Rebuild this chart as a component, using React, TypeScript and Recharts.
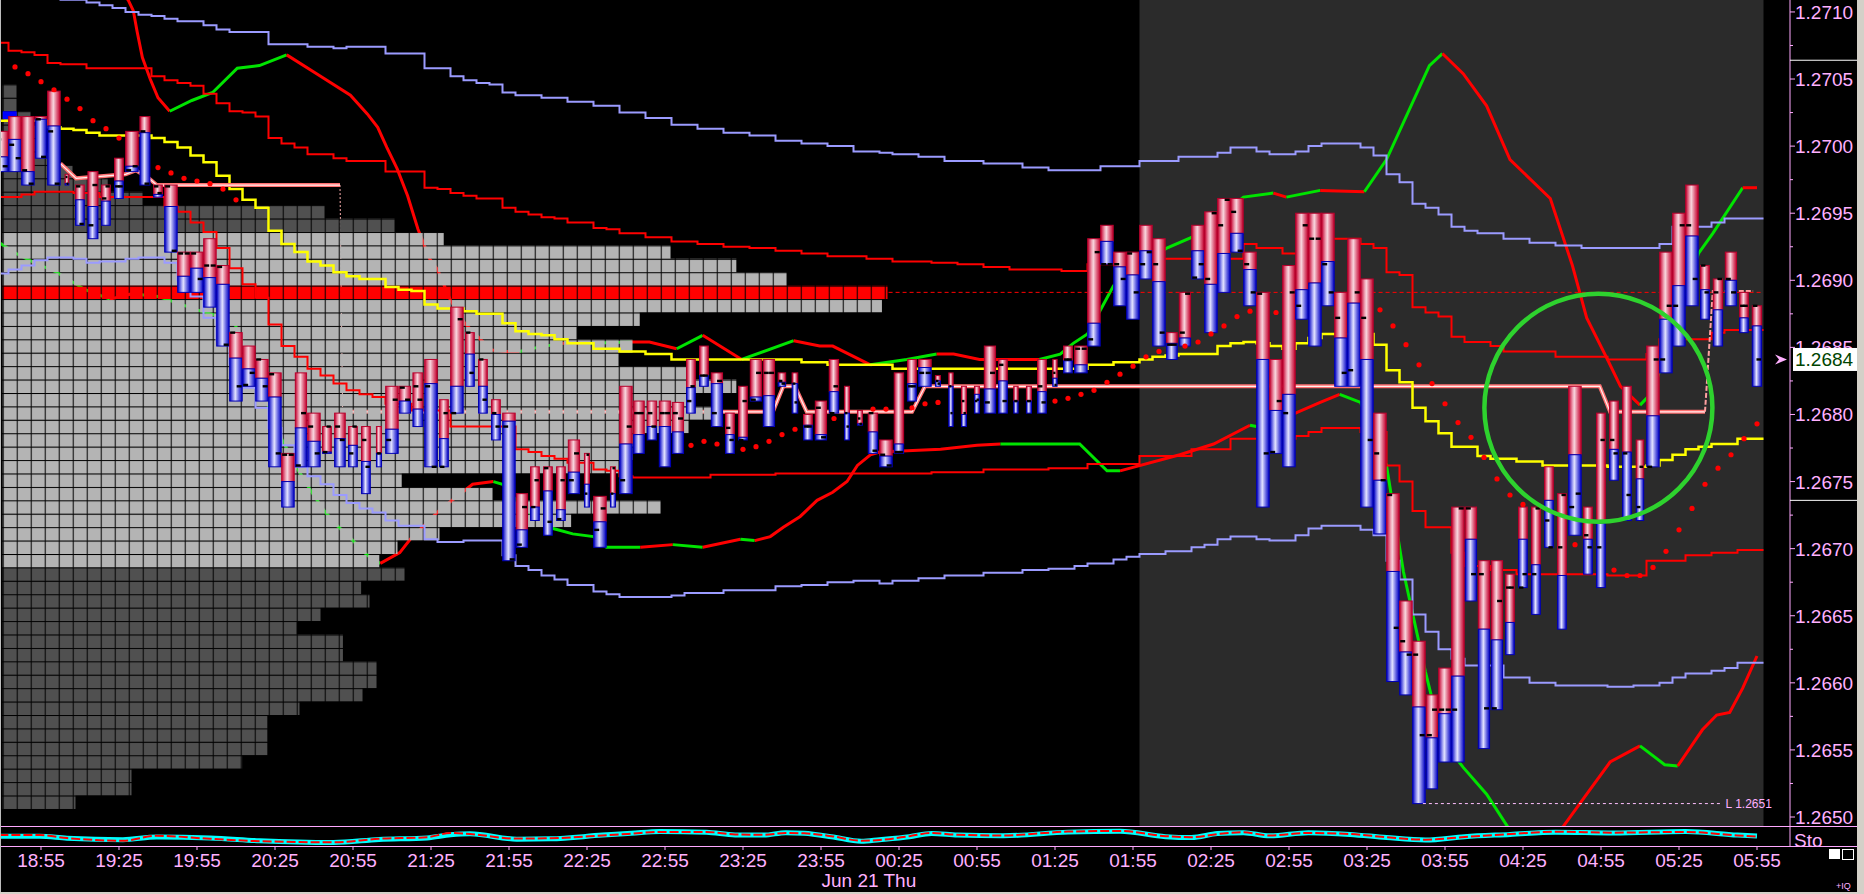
import React from "react"
import {
  ComposedChart,
  Line,
  Bar,
  XAxis,
  YAxis,
  ReferenceArea,
  ReferenceLine,
  ReferenceDot,
} from "recharts"

// ---- frame / scale setup
const W = 1857
const MAIN_H = 826
const STRIP_H = 68
const AXIS_W = 67
const PRICE_MIN = 1.264933
const PRICE_MAX = 1.271089
const X_MIN = -3.1538
const X_MAX = 134.538
const PROF_MIN = -0.193
const PROF_MAX = 127.66
const FONT = "'Liberation Sans', Arial, sans-serif"
const PINK_TXT = "#ffb0ff"
const PINK_AXIS = "#ffa8ff"
const GREEN = "#00e400"
const RED = "#ff0000"

// ---- 5 minute bars, index 0 = 18:55
const FIRST_BAR = -3
const BAR_HIGH = [
  1.27011, 1.27022, 1.27022, 1.27022, 1.27041, 1.26979, 1.26971, 1.26981, 1.26971, 1.26991, 1.27011, 1.27022, 1.26971,
  1.26971, 1.26921, 1.26921, 1.26931, 1.26911, 1.26861, 1.26851, 1.26841, 1.26831, 1.26771,
  1.26831, 1.26801, 1.26791, 1.26801, 1.26791, 1.26791, 1.26791, 1.26821, 1.26821, 1.26831,
  1.26841, 1.26811, 1.2688, 1.26861, 1.26841, 1.26811, 1.26801, 1.26741, 1.26761, 1.26761,
  1.26761, 1.26781, 1.26771, 1.26739, 1.26761, 1.26821, 1.2681, 1.2681, 1.2681, 1.26809,
  1.26841, 1.26851, 1.26831, 1.26801, 1.26821, 1.26841, 1.26841, 1.26831, 1.26831, 1.268,
  1.2681, 1.26841, 1.26821, 1.26803, 1.26801, 1.26781, 1.26831, 1.26841, 1.26841, 1.26829,
  1.26831, 1.26821, 1.26821, 1.26851, 1.26841, 1.26821, 1.26821, 1.26841, 1.26841, 1.26851,
  1.26851, 1.26931, 1.26941, 1.26921, 1.26921, 1.26941, 1.26931, 1.26861, 1.26891, 1.26941,
  1.26951, 1.26961, 1.26961, 1.26921, 1.26891, 1.26841, 1.26911, 1.2695, 1.2695, 1.2695,
  1.26891, 1.26931, 1.26901, 1.26801, 1.26741, 1.26661, 1.26631, 1.26591, 1.26611, 1.26731,
  1.26731, 1.26691, 1.26691, 1.26681, 1.26731, 1.26731, 1.26761, 1.26741, 1.26821, 1.26731,
  1.26801, 1.2681, 1.26821, 1.26781, 1.26851, 1.26921, 1.2695, 1.26971, 1.26911, 1.26901,
  1.26921, 1.26891, 1.26881,
]
const BAR_MID = [
  1.26992, 1.27005, 1.26981, 1.2702, 1.27015, 1.26972, 1.2696, 1.26955, 1.26959, 1.26974, 1.26985, 1.2701, 1.26964,
  1.26955, 1.26903, 1.26909, 1.26902, 1.26897, 1.26842, 1.26834, 1.26827, 1.26813, 1.2675,
  1.2679, 1.2678, 1.26772, 1.26782, 1.26777, 1.26765, 1.26771, 1.26789, 1.2681, 1.26804,
  1.26823, 1.26782, 1.26821, 1.26845, 1.26821, 1.268, 1.26795, 1.26714, 1.26731, 1.26743,
  1.26729, 1.26757, 1.26748, 1.2672, 1.26741, 1.26778, 1.26785, 1.26791, 1.26791, 1.26787,
  1.2682, 1.26829, 1.26823, 1.26785, 1.26783, 1.26813, 1.26814, 1.26824, 1.26823, 1.26792,
  1.26785, 1.26817, 1.26801, 1.26793, 1.26787, 1.26769, 1.26778, 1.26823, 1.26835, 1.26825,
  1.26821, 1.268, 1.26815, 1.26819, 1.26825, 1.2681, 1.2681, 1.26817, 1.26827, 1.2684,
  1.26837, 1.26868, 1.26929, 1.2691, 1.26904, 1.26922, 1.26899, 1.26853, 1.26857, 1.26922,
  1.26897, 1.2692, 1.26935, 1.26908, 1.26841, 1.26803, 1.26815, 1.26893, 1.26898, 1.26914,
  1.26857, 1.26883, 1.26841, 1.26751, 1.26683, 1.26623, 1.26582, 1.26559, 1.26577, 1.26605,
  1.26707, 1.2664, 1.26632, 1.26645, 1.26707, 1.26688, 1.26736, 1.2668, 1.2677, 1.26707,
  1.26719, 1.26774, 1.26772, 1.26752, 1.26799, 1.26871, 1.26896, 1.26933, 1.26893, 1.26878,
  1.269, 1.26872, 1.26866,
]
const BAR_LOW = [
  1.26981, 1.26981, 1.26971, 1.26991, 1.26971, 1.26971, 1.26941, 1.26931, 1.26941, 1.26961, 1.26981, 1.26971, 1.26962,
  1.26921, 1.26891, 1.26891, 1.2688, 1.26851, 1.2681, 1.26821, 1.2681, 1.26761, 1.26731,
  1.26761, 1.26761, 1.26771, 1.26761, 1.26761, 1.26741, 1.26761, 1.26771, 1.26801, 1.26791,
  1.26761, 1.26761, 1.26801, 1.26821, 1.26801, 1.26781, 1.26691, 1.26701, 1.26721, 1.2671,
  1.26721, 1.26741, 1.26731, 1.26701, 1.26731, 1.26741, 1.26771, 1.26781, 1.26761, 1.26771,
  1.26801, 1.26821, 1.26791, 1.26771, 1.26781, 1.2681, 1.26791, 1.26821, 1.26801, 1.26781,
  1.26781, 1.26801, 1.26781, 1.26792, 1.26771, 1.26761, 1.26771, 1.2681, 1.26821, 1.26821,
  1.26791, 1.26791, 1.26801, 1.26801, 1.26801, 1.26801, 1.26801, 1.26801, 1.26821, 1.26831,
  1.26831, 1.26851, 1.26912, 1.26881, 1.26871, 1.26901, 1.26851, 1.26841, 1.26851, 1.26901,
  1.26861, 1.26891, 1.26921, 1.26881, 1.26731, 1.26771, 1.26761, 1.26871, 1.26851, 1.26881,
  1.26821, 1.26821, 1.26731, 1.26711, 1.26601, 1.26591, 1.2651, 1.26521, 1.26541, 1.26541,
  1.26661, 1.26551, 1.2658, 1.26621, 1.26671, 1.26651, 1.26701, 1.2664, 1.2671, 1.26681,
  1.26671, 1.26751, 1.26721, 1.26721, 1.26761, 1.26831, 1.26851, 1.26881, 1.26871, 1.26851,
  1.26881, 1.26861, 1.26821,
]
const BAR_OPEN = [
  1.27005, 1.27001, 1.26982, 1.2702, 1.27011, 1.26977, 1.2697, 1.26941, 1.26961, 1.2697, 1.26982, 1.27011, 1.2697,
  1.2697, 1.2692, 1.2692, 1.26911, 1.2691, 1.26861, 1.26822, 1.26841, 1.2683, 1.2677,
  1.26762, 1.26791, 1.26772, 1.26791, 1.26771, 1.26781, 1.26771, 1.26781, 1.2682, 1.26821,
  1.26821, 1.26761, 1.26801, 1.26861, 1.26841, 1.26801, 1.26791, 1.26703, 1.26731, 1.2676,
  1.26722, 1.26751, 1.26741, 1.26714, 1.26741, 1.26751, 1.26801, 1.26801, 1.26801, 1.26801,
  1.2681, 1.26829, 1.26801, 1.2679, 1.26781, 1.26811, 1.26831, 1.26825, 1.26823, 1.26791,
  1.26805, 1.26801, 1.26801, 1.26797, 1.26801, 1.2677, 1.26772, 1.26821, 1.26831, 1.26825,
  1.26821, 1.2681, 1.2681, 1.26809, 1.26837, 1.2681, 1.2681, 1.26821, 1.26831, 1.26841,
  1.26849, 1.26856, 1.26912, 1.26912, 1.2692, 1.26912, 1.26912, 1.26852, 1.26861, 1.26902,
  1.26901, 1.26941, 1.26951, 1.26912, 1.2689, 1.26772, 1.26801, 1.26881, 1.26931, 1.26912,
  1.26872, 1.26833, 1.26872, 1.26771, 1.2674, 1.26631, 1.26621, 1.26561, 1.2658, 1.2658,
  1.2673, 1.26681, 1.26581, 1.26671, 1.26671, 1.26681, 1.26721, 1.26701, 1.26731, 1.2671,
  1.26701, 1.26781, 1.26771, 1.26731, 1.26761, 1.26841, 1.26881, 1.26941, 1.26911, 1.26891,
  1.26901, 1.26881, 1.26881,
]
const BAR_CLOSE = [
  1.26985, 1.26991, 1.26972, 1.26992, 1.26972, 1.26972, 1.26942, 1.26971, 1.2697, 1.2697, 1.26985, 1.26972, 1.26965,
  1.26922, 1.2692, 1.26901, 1.26911, 1.26852, 1.26821, 1.26831, 1.26821, 1.26771, 1.2677,
  1.26801, 1.26771, 1.26791, 1.26781, 1.26791, 1.26761, 1.26771, 1.26811, 1.26811, 1.26811,
  1.26761, 1.26801, 1.26871, 1.26831, 1.26811, 1.26791, 1.26692, 1.26731, 1.26751, 1.2672,
  1.26751, 1.26771, 1.2677, 1.2673, 1.2676, 1.26791, 1.26801, 1.26791, 1.26801, 1.26797,
  1.26821, 1.26829, 1.26825, 1.26781, 1.2681, 1.26831, 1.26831, 1.26823, 1.26809, 1.26791,
  1.26783, 1.26821, 1.26791, 1.26793, 1.26773, 1.26762, 1.26772, 1.26821, 1.26831, 1.26823,
  1.26801, 1.26801, 1.26811, 1.26831, 1.2681, 1.2681, 1.2681, 1.26809, 1.26822, 1.26841,
  1.26849, 1.26921, 1.26912, 1.26901, 1.26891, 1.26921, 1.26861, 1.26852, 1.2689, 1.26912,
  1.2695, 1.2696, 1.26922, 1.26891, 1.26771, 1.2681, 1.26891, 1.26941, 1.26931, 1.26891,
  1.26831, 1.26891, 1.26781, 1.26751, 1.26641, 1.26621, 1.26561, 1.2658, 1.2658, 1.2673,
  1.26681, 1.26581, 1.26661, 1.26671, 1.26681, 1.2673, 1.26701, 1.2674, 1.26741, 1.26701,
  1.26781, 1.26771, 1.2674, 1.26761, 1.26841, 1.26881, 1.26941, 1.26901, 1.26891, 1.26901,
  1.26891, 1.26881, 1.26841,
]
// relative body width (volume)
const BAR_WIDTH = [
  1, 1, 1, 0.9, 1, 0.3, 0.7, 0.8, 0.7, 0.7, 1, 0.8, 0.7,
  1, 1, 1, 1, 1, 1, 1, 1, 1, 1,
  0.9, 1, 0.7, 0.85, 0.7, 0.7, 0.4, 1, 0.9, 0.8,
  1, 0.7, 1, 0.7, 0.7, 0.7, 1, 0.9, 0.7, 0.7,
  0.7, 0.9, 0.4, 1, 0.4, 1, 0.85, 0.75, 0.9, 0.9,
  0.7, 0.7, 0.9, 0.7, 0.7, 0.9, 0.9, 0.6, 0.45, 0.7,
  0.9, 0.75, 0.4, 0.4, 0.75, 1, 0.75, 0.7, 1, 0.4,
  0.35, 0.4, 0.4, 0.9, 0.7, 0.35, 0.4, 0.7, 0.35, 0.7,
  1, 1, 1, 1, 1, 1, 1, 0.85, 0.9, 1,
  1, 1, 1, 1, 1, 1, 1, 1, 1, 1,
  1, 1, 1, 1, 1, 1, 1, 0.9, 1, 1,
  0.9, 0.9, 0.9, 0.7, 0.7, 0.7, 0.7, 0.7, 1, 0.7,
  0.7, 0.7, 0.7, 0.6, 1, 1, 1, 1, 0.7, 0.75,
  0.9, 0.7, 0.75,
]

const TIME_TICKS = [0, 6, 12, 18, 24, 30, 36, 42, 48, 54, 60, 66, 72, 78, 84, 90, 96, 102, 108, 114, 120, 126, 132]
const TIME_LABELS = [
  "18:55", "19:25", "19:55", "20:25", "20:55", "21:25", "21:55", "22:25", "22:55", "23:25", "23:55", "00:25",
  "00:55", "01:25", "01:55", "02:25", "02:55", "03:25", "03:55", "04:25", "04:55", "05:25", "05:55",
]
const DATE_TICK = 60.5
const DATE_LABEL = "Jun 21 Thu"

const MAJOR_TICKS = [1.265, 1.2655, 1.266, 1.2665, 1.267, 1.2675, 1.268, 1.2685, 1.269, 1.2695, 1.27, 1.2705, 1.271]
const MINOR_TICKS = [1.26525, 1.26575, 1.26625, 1.26675, 1.26725, 1.26775, 1.26825, 1.26875, 1.26925, 1.26975, 1.27025, 1.27075]
const MARK_LINES = [1.27064, 1.26736]
const LAST_PRICE = 1.26841

const SESSION_START = 84.5
const SESSION_END = 132.5

// ---- volume profile (row centre price, TPO cells)
const POC_PRICE = 1.26891
const VA_HIGH = 1.26931
const VA_LOW = 1.26691
const PROFILE_PRICE = [
  1.27041, 1.27031, 1.27021, 1.27011, 1.27001, 1.26991, 1.26981, 1.26971, 1.26961, 1.26951, 1.26941,
  1.26931, 1.26921, 1.26911, 1.26901, 1.26891, 1.26881, 1.26871, 1.26861, 1.26851, 1.26841, 1.26831,
  1.26821, 1.26811, 1.26801, 1.26791, 1.26781, 1.26771, 1.26761, 1.26751, 1.26741, 1.26731, 1.26721,
  1.26711, 1.26701, 1.26691, 1.26681, 1.26671, 1.26661, 1.26651, 1.26641, 1.26631, 1.26621, 1.26611,
  1.26601, 1.26591, 1.26581, 1.26571, 1.26561, 1.26551, 1.26541, 1.26531, 1.26521, 1.26511,
]
const PROFILE_CELLS = [
  1, 1, 2, 3, 3, 4, 5, 7.5, 10, 23, 28,
  31.5, 47.7, 52.4, 56, 63.2, 62.8, 45.5, 41, 45, 44, 49,
  52.4, 49, 51.4, 49, 45.5, 45, 44, 28.5, 35, 47, 40.6,
  31.2, 28.2, 26.9, 28.7, 25.6, 26.2, 22.7, 21, 24.3, 24.3, 26.7,
  26.7, 25.7, 21.2, 18.9, 18.9, 18.9, 17.1, 9.2, 9.2, 5.2,
]

// ---- overlay studies, [bar index, price]
const UPPER_BAND = [
  [-3.5, 1.27125], [1.5, 1.27109], [3.5, 1.27107], [4.5, 1.27105], [5.5, 1.27103], [6.5, 1.271], [7.5, 1.27098],
  [8.5, 1.27097], [9.5, 1.27095], [10.5, 1.27093], [12.5, 1.2709], [13.5, 1.27087], [14.5, 1.27085], [17.5, 1.27076],
  [20.5, 1.27074], [22.5, 1.27073], [23.5, 1.27074], [26.5, 1.27069], [29.5, 1.27058], [31.5, 1.27052], [32.5, 1.27049],
  [33.5, 1.27047], [34.5, 1.27046], [35.5, 1.2704], [36.5, 1.27038], [38.5, 1.27036], [40.5, 1.27033], [42.5, 1.2703],
  [44.5, 1.27025], [46.5, 1.27021], [48.5, 1.27016], [50.5, 1.27013], [52.5, 1.2701], [54.5, 1.27008], [56.5, 1.27004],
  [58.5, 1.27002], [60.5, 1.27], [62.5, 1.26996], [64.5, 1.26995], [65.5, 1.26994], [67.5, 1.26992], [69.5, 1.26989],
  [72.5, 1.26987], [75.5, 1.26984], [77.5, 1.26982], [81.5, 1.26985], [84.5, 1.26989], [87.5, 1.26992], [90.5, 1.26995],
  [91.5, 1.26999], [93.5, 1.26996], [94.5, 1.26994], [96.5, 1.26996], [97.5, 1.27], [98.5, 1.27002], [101.5, 1.26999],
  [102.5, 1.26993], [103.5, 1.26979], [104.5, 1.26973], [105.5, 1.26957], [106.5, 1.26954], [107.5, 1.26949],
  [108.5, 1.2694], [109.5, 1.26937], [110.5, 1.26935], [112.5, 1.26931], [114.5, 1.26928], [116.5, 1.26926],
  [118.5, 1.26924], [124.5, 1.26927], [125.5, 1.2694], [128.5, 1.26943], [129.5, 1.26946], [132.5, 1.26946],
]
const LOWER_BAND = [
  [-3.5, 1.26905], [-2.5, 1.26908], [-1.5, 1.26911], [-0.5, 1.26915], [0.5, 1.26917], [2.5, 1.26916], [3.5, 1.26913],
  [4.5, 1.26914], [6.5, 1.26916], [7.5, 1.26917], [9.5, 1.26913], [10.5, 1.269], [11.5, 1.26888], [12.5, 1.26872],
  [13.5, 1.26855], [14.5, 1.26838], [15.5, 1.2682], [16.5, 1.26805], [17.5, 1.2679], [18.5, 1.26777], [19.5, 1.26761],
  [20.5, 1.26754], [21.5, 1.26748], [22.5, 1.2674], [23.5, 1.26734], [24.5, 1.2673], [25.5, 1.26727], [26.5, 1.26721],
  [27.5, 1.26717], [29.5, 1.26707], [30.5, 1.26705], [32.5, 1.26706], [35.5, 1.26695], [36.5, 1.26687], [37.5, 1.26684],
  [38.5, 1.2668], [39.5, 1.26677], [40.5, 1.26673], [42.5, 1.26668], [43.5, 1.26666], [44.5, 1.26664], [48.5, 1.26665],
  [49.5, 1.26667], [52.5, 1.26669], [56.5, 1.26672], [58.5, 1.26673], [60.5, 1.26675], [62.5, 1.26676], [64.5, 1.26674],
  [65.5, 1.26676], [67.5, 1.26678], [69.5, 1.2668], [72.5, 1.26682], [75.5, 1.26684], [77.5, 1.26685], [79.5, 1.26687],
  [80.5, 1.26689], [82.5, 1.26692], [83.5, 1.26694], [84.5, 1.26696], [86.5, 1.26698], [88.5, 1.26701], [89.5, 1.26703],
  [90.5, 1.26707], [91.5, 1.26709], [93.5, 1.26707], [94.5, 1.26706], [96.5, 1.2671], [97.5, 1.26715], [98.5, 1.26717],
  [101.5, 1.26714], [102.5, 1.2671], [103.5, 1.26691], [104.5, 1.26677], [105.5, 1.26651], [106.5, 1.26638],
  [107.5, 1.26625], [108.5, 1.26618], [109.5, 1.26613], [112.5, 1.26604], [114.5, 1.266], [116.5, 1.26598],
  [120.5, 1.26597], [122.5, 1.26598], [124.5, 1.266], [125.5, 1.26604], [126.5, 1.26607], [128.5, 1.26609],
  [129.5, 1.26611], [130.5, 1.26615], [132.5, 1.26615],
]
const RED_STEP_UPPER = [
  [-3.5, 1.27077], [-2.5, 1.27071], [-1.5, 1.2707], [-0.5, 1.27068], [0.5, 1.27062], [1.5, 1.27061], [3.5, 1.27058],
  [8.5, 1.27052], [9.5, 1.27049], [10.5, 1.27047], [11.5, 1.27045], [12.5, 1.27039], [13.5, 1.27032], [14.5, 1.27026],
  [15.5, 1.27025], [16.5, 1.27022], [17.5, 1.27006], [18.5, 1.27002], [19.5, 1.26999], [20.5, 1.26994], [22.5, 1.26991],
  [23.5, 1.26989], [26.5, 1.26981], [29.5, 1.26969], [30.5, 1.26968], [31.5, 1.26965], [32.5, 1.26963], [33.5, 1.26961],
  [35.5, 1.26954], [36.5, 1.26951], [37.5, 1.26949], [38.5, 1.26947], [39.5, 1.26946], [40.5, 1.26943], [42.5, 1.26939],
  [43.5, 1.26938], [44.5, 1.26935], [46.5, 1.26932], [48.5, 1.26929], [50.5, 1.26927], [52.5, 1.26925], [54.5, 1.26924],
  [56.5, 1.26922], [58.5, 1.2692], [60.5, 1.26918], [63.5, 1.26916], [65.5, 1.26914], [68.5, 1.26913], [70.5, 1.26912],
  [72.5, 1.2691], [74.5, 1.26908], [78.5, 1.26907], [80.5, 1.26912], [82.5, 1.26916], [92.5, 1.26927], [93.5, 1.26924],
  [95.5, 1.2692], [97.5, 1.26931], [101.5, 1.26927], [102.5, 1.26924], [103.5, 1.26906], [104.5, 1.26904],
  [105.5, 1.2688], [106.5, 1.26876], [107.5, 1.26873], [108.5, 1.26858], [109.5, 1.26854], [111.5, 1.26851],
  [112.5, 1.26847], [116.5, 1.26843], [120.5, 1.26841], [123.5, 1.26845], [124.5, 1.26856], [128.5, 1.26861],
  [129.5, 1.26863], [132.5, 1.26863],
]
const RED_STEP_LOWER = [
  [-3.5, 1.26962], [-1.5, 1.26964], [-0.5, 1.26966], [2.5, 1.26965], [4.5, 1.26962], [9.5, 1.26955], [10.5, 1.26951],
  [11.5, 1.26943], [12.5, 1.26936], [13.5, 1.26924], [14.5, 1.26909], [15.5, 1.26897], [16.5, 1.26887], [17.5, 1.26867],
  [18.5, 1.26851], [19.5, 1.26843], [20.5, 1.26834], [21.5, 1.26829], [22.5, 1.26823], [23.5, 1.26818], [24.5, 1.26815],
  [25.5, 1.26813], [26.5, 1.26808], [28.5, 1.26803], [31.5, 1.26791], [36.5, 1.26774], [37.5, 1.26772], [38.5, 1.26769],
  [39.5, 1.26767], [40.5, 1.26764], [42.5, 1.26759], [43.5, 1.26758], [44.5, 1.26754], [45.5, 1.26753], [51.5, 1.26755],
  [56.5, 1.26756], [68.5, 1.26757], [72.5, 1.26759], [77.5, 1.2676], [80.5, 1.26763], [84.5, 1.26769], [88.5, 1.26774],
  [91.5, 1.26782], [96.5, 1.26784], [97.5, 1.26787], [98.5, 1.2679], [101.5, 1.26787], [103.5, 1.26762], [104.5, 1.2675],
  [105.5, 1.26728], [106.5, 1.26716], [108.5, 1.26697], [109.5, 1.26687], [111.5, 1.26684], [113.5, 1.26681],
  [120.5, 1.2668], [123.5, 1.26691], [126.5, 1.26695], [128.5, 1.26697], [130.5, 1.26699], [132.5, 1.26699],
]
const VWAP = [
  [-3.5, 1.27019], [0.5, 1.27014], [1.5, 1.27013], [2.5, 1.27012], [3.5, 1.2701], [4.5, 1.27008], [8.5, 1.27006],
  [9.5, 1.27003], [10.5, 1.26999], [11.5, 1.26993], [12.5, 1.26988], [13.5, 1.26978], [14.5, 1.26968], [15.5, 1.2696],
  [16.5, 1.26954], [17.5, 1.26937], [18.5, 1.26927], [19.5, 1.26921], [20.5, 1.26914], [21.5, 1.26911], [22.5, 1.26906],
  [23.5, 1.26903], [24.5, 1.26901], [26.5, 1.26895], [27.5, 1.26893], [28.5, 1.26892], [29.5, 1.26882], [30.5, 1.26879],
  [32.5, 1.26877], [33.5, 1.26875], [35.5, 1.26868], [36.5, 1.26862], [37.5, 1.2686], [38.5, 1.26859], [39.5, 1.26856],
  [40.5, 1.26853], [42.5, 1.26849], [44.5, 1.26847], [46.5, 1.26845], [48.5, 1.26841], [58.5, 1.26839], [60.5, 1.26837],
  [65.5, 1.26834], [80.5, 1.26837], [82.5, 1.26839], [84.5, 1.26841], [85.5, 1.26843], [86.5, 1.26844], [87.5, 1.26845],
  [90.5, 1.26851], [91.5, 1.26853], [92.5, 1.26854], [93.5, 1.26853], [94.5, 1.26851], [95.5, 1.26849], [96.5, 1.26853],
  [97.5, 1.26857], [98.5, 1.2686], [102.5, 1.26852], [103.5, 1.26833], [104.5, 1.26824], [105.5, 1.26805],
  [106.5, 1.26795], [107.5, 1.26786], [108.5, 1.26776], [110.5, 1.26769], [111.5, 1.26767], [113.5, 1.26765],
  [115.5, 1.26762], [120.5, 1.26761], [123.5, 1.26762], [124.5, 1.26766], [125.5, 1.2677], [126.5, 1.26774],
  [127.5, 1.26776], [128.5, 1.26778], [130.5, 1.26782], [132.5, 1.26782],
]
const ENV_UPPER = [
  [4.5, 1.2713], [6.7, 1.27109], [7.1, 1.27101], [7.4, 1.27085], [7.8, 1.27066], [8.4, 1.2705], [9, 1.27036],
  [9.9, 1.27026], [11.6, 1.27034], [13.2, 1.2704], [15.1, 1.27058], [16.8, 1.2706], [18.9, 1.27068], [21.2, 1.27054],
  [23.8, 1.27038], [25.1, 1.27024], [25.9, 1.27014], [26.6, 1.26999], [27.4, 1.26983], [28.2, 1.26963], [29, 1.26938],
  [29.9, 1.26916], [30.5, 1.26908], [31.5, 1.26885], [32.6, 1.26868], [33.8, 1.26856], [34.7, 1.26848], [35.8, 1.26847],
  [36.8, 1.26847], [38.2, 1.2685], [40.1, 1.26853], [42.2, 1.26853], [45.4, 1.26854], [46.8, 1.26854], [48.9, 1.26849],
  [50.9, 1.26859], [53.9, 1.26841], [57.9, 1.26855], [59.9, 1.26851], [60.9, 1.26851], [63.8, 1.26837], [66.6, 1.26841],
  [68.9, 1.26845], [70.2, 1.26845], [72.2, 1.26841], [76.8, 1.26841], [78.4, 1.26845], [79.4, 1.26853], [80.5, 1.2686],
  [82.5, 1.26896], [84.4, 1.26909], [86.6, 1.26924], [88.5, 1.26932], [90.2, 1.26944], [92.5, 1.26962], [94.8, 1.26965],
  [95.8, 1.26962], [98.4, 1.26967], [101.8, 1.26966], [103.5, 1.2699], [106.8, 1.2706], [107.8, 1.27069],
  [109.4, 1.27054], [111.2, 1.2703], [113, 1.2699], [116.1, 1.26961], [117.8, 1.26911], [118.9, 1.26872],
  [120.5, 1.26841], [121.5, 1.26821], [123, 1.26807], [124, 1.26817], [125.5, 1.26863], [127.5, 1.2692],
  [128.6, 1.26935], [130.9, 1.26969], [132, 1.26969],
]
const ENV_LOWER = [
  [-3.2, 1.26928], [-1.9, 1.2692], [-0.7, 1.26914], [1.2, 1.26906], [3.4, 1.26893], [5.3, 1.26886], [7, 1.2689],
  [9, 1.26888], [12, 1.26878], [14.8, 1.2687], [16.5, 1.2683], [18.5, 1.26782], [19.7, 1.2676], [20.7, 1.26744],
  [21.8, 1.26728], [22.8, 1.26717], [24, 1.26706], [25.1, 1.26695], [26.1, 1.26689], [27.6, 1.26697], [28.4, 1.26707],
  [30.7, 1.26729], [33.2, 1.26748], [34.8, 1.2675], [35.5, 1.26748], [37.1, 1.2673], [39.4, 1.26715], [40.9, 1.26711],
  [42.5, 1.26709], [43.5, 1.26701], [46.1, 1.26701], [48.6, 1.26703], [50.9, 1.26701], [53.8, 1.26707], [54.9, 1.26706],
  [56.1, 1.26709], [57.1, 1.26716], [58.4, 1.26724], [59.7, 1.26736], [60.9, 1.26742], [62, 1.2675], [62.8, 1.26762],
  [63.8, 1.2677], [64.5, 1.26772], [69.2, 1.26774], [72, 1.26777], [73.8, 1.26778], [79.9, 1.26778], [82, 1.26758],
  [83, 1.26758], [87.6, 1.2677], [90.2, 1.26778], [93, 1.26792], [93.5, 1.26791], [96.5, 1.26801], [98.4, 1.26809],
  [99.9, 1.26815], [101.5, 1.26809], [103.5, 1.26762], [104.8, 1.26683], [106.5, 1.26608], [107.8, 1.26557],
  [109.4, 1.26537], [111.2, 1.26517], [112.8, 1.26493], [114.9, 1.26475], [117.1, 1.26493], [118.9, 1.26517],
  [120.7, 1.26541], [123, 1.26553], [124.9, 1.26539], [125.9, 1.26538], [127.8, 1.26565], [128.9, 1.26576],
  [129.9, 1.26578], [130.9, 1.26596], [132, 1.2662],
]
const SAR = [
  [-2, 1.27059], [-1, 1.27054], [0, 1.27048], [1, 1.27042], [2, 1.27035], [3, 1.27028], [4, 1.27019], [5, 1.27013],
  [6, 1.27006], [9, 1.26984], [10, 1.2698], [11, 1.26976], [12, 1.26974], [13, 1.26972], [14, 1.26968], [15, 1.2696],
  [50, 1.26777], [51, 1.2678], [52, 1.26778], [54, 1.26774], [55, 1.26776], [56, 1.2678], [57, 1.26785], [58, 1.26789],
  [61, 1.26797], [64, 1.26804], [65, 1.26804], [67, 1.26805], [68, 1.26808], [69, 1.26809], [78, 1.2681], [79, 1.26812],
  [80, 1.26815], [81, 1.26818], [82, 1.26824], [83, 1.2683], [84, 1.26836], [85, 1.26843], [86, 1.26847], [88, 1.26851],
  [89, 1.26854], [90, 1.2686], [91, 1.26866], [92, 1.26873], [93, 1.26877], [95, 1.26876], [103, 1.26878],
  [104, 1.26866], [105, 1.26852], [106, 1.26837], [107, 1.26823], [108, 1.26808], [109, 1.26794], [110, 1.26783],
  [111, 1.26768], [112, 1.26752], [113, 1.2674], [114, 1.26733], [118, 1.26703], [121, 1.26684], [122, 1.2668],
  [123, 1.2668], [124, 1.26686], [125, 1.26698], [126, 1.26714], [127, 1.2673], [128, 1.26748], [129, 1.2676],
  [130, 1.2677], [131, 1.26782], [132, 1.26793],
]
const DEV_POC_A = [[1.5, 1.26987], [2.7, 1.26976], [6.5, 1.26979], [7.3, 1.26982], [8.3, 1.26976], [8.9, 1.26971], [23, 1.26971]]
const DEV_POC_B = [
  [23.2, 1.26802], [56.3, 1.26802], [57.1, 1.26821], [58, 1.26821], [58.9, 1.26802], [67, 1.26802], [68, 1.26821],
  [119.9, 1.26821], [120.7, 1.26802], [128, 1.26802],
]
const DEV_POC_LINK = [[23, 1.26971], [23.2, 1.26802]]
const DEV_POC_TAIL = [[128, 1.26802], [128.6, 1.26892], [131.7, 1.26892]]
const POC_EXTENSION = [[65.2, 1.26891], [132.5, 1.26891]]
const LOW_MARK = { price: 1.2651, from: 106.3, to: 129.2 }
const CIRCLE = { i: 119.8, price: 1.26805, r: 114 }

// ---- stochastic strip
const STO_FAST = [
  [-3.2, 51], [-0.1, 51], [2, 40], [6.3, 32], [8.9, 47], [13, 42], [16.8, 26], [22.5, 16], [26, 33], [29.7, 42],
  [31.5, 60], [33, 66], [36.6, 35], [39.2, 37], [43.2, 58], [45.4, 68], [47.6, 79], [51.2, 74], [53.4, 59], [55.6, 58],
  [57.3, 72], [58.7, 68], [60.8, 49], [63.1, 23], [64.5, 32], [66.8, 49], [68.5, 67], [70.5, 58], [74, 54], [79, 75],
  [83, 80], [86.5, 49], [88.5, 44], [90.5, 67], [92.5, 72], [94.5, 54], [97.5, 72], [100.7, 62], [103.5, 44],
  [106.5, 30], [109.5, 49], [113, 62], [116.5, 75], [121, 70], [126.5, 79], [130.5, 58], [132, 53],
]
const STO_SLOW = [
  [-3.2, 58], [-0.1, 58], [2, 41], [6.3, 26], [8.9, 54], [13, 37], [16.8, 23], [22.5, 17], [26, 37], [29.7, 46],
  [31.5, 70], [33, 64], [36.6, 38], [39.2, 40], [43.2, 56], [45.4, 66], [47.6, 76], [51.2, 76], [53.4, 62], [55.6, 60],
  [57.3, 70], [58.7, 68], [60.8, 52], [63.1, 26], [64.5, 30], [66.8, 52], [68.5, 70], [70.5, 60], [74, 56], [79, 78],
  [83, 82], [86.5, 52], [88.5, 46], [90.5, 64], [92.5, 74], [94.5, 56], [97.5, 70], [100.7, 64], [103.5, 46],
  [106.5, 32], [109.5, 47], [113, 64], [116.5, 77], [121, 72], [126.5, 76], [130.5, 56], [132, 50],
]

// ---- helpers
const pts = (arr: number[][]) => arr.map(([i, v]) => ({ i, v }))

const CANDLES = BAR_HIGH.map((h, k) => ({
  i: k + FIRST_BAR,
  h,
  m: BAR_MID[k],
  l: BAR_LOW[k],
  o: BAR_OPEN[k],
  c: BAR_CLOSE[k],
  w: BAR_WIDTH[k],
}))

// split a curve into green / red runs by slope
function colourRuns(arr: number[][], greenWhenRising: boolean) {
  const p = pts(arr)
  const runs: { color: string; data: { i: number; v: number }[] }[] = []
  let cur: any = null
  for (let k = 0; k < p.length - 1; k++) {
    const rising = p[k + 1].v > p[k].v
    const color = rising === greenWhenRising ? GREEN : RED
    if (!cur || cur.color !== color) {
      cur = { color, data: [p[k]] }
      runs.push(cur)
    }
    cur.data.push(p[k + 1])
  }
  return runs
}

const PX_PER_PRICE = MAIN_H / (PRICE_MAX - PRICE_MIN)
const ROW_PX = 0.0001 * PX_PER_PRICE
const CELL_PX = (W - AXIS_W) / (PROF_MAX - PROF_MIN)
const GRID_X0 = -PROF_MIN * CELL_PX
const GRID_Y0 = ((PRICE_MAX - (POC_PRICE + 0.00005)) * PX_PER_PRICE) % ROW_PX

// cells leave a 1px gap, so whatever lies underneath shows through the grid
const CellPattern = ({ id, color }: { id: string; color: string }) => (
  <pattern id={id} patternUnits="userSpaceOnUse" width={CELL_PX} height={ROW_PX} x={GRID_X0} y={GRID_Y0}>
    <rect x={1} y={1} width={CELL_PX - 1} height={ROW_PX - 1} fill={color} />
  </pattern>
)

const CANDLE_W = 12.5

const Candle = (props: any) => {
  const { x, y, width, height, payload } = props
  if (!payload || height == null) return null
  const top = Math.min(y, y + height)
  const h = Math.abs(height)
  const span = payload.h - payload.l || 0.00001
  const py = (v: number) => top + ((payload.h - v) / span) * h
  const w = Math.max(3, CANDLE_W * payload.w)
  const left = x + width / 2 - w / 2
  const midY = py(payload.m)
  const tick = Math.min(5, w / 2)
  return (
    <g>
      <rect x={left} y={top} width={w} height={Math.max(0, midY - top)} fill="url(#candleRed)" stroke="#b8002c" strokeWidth={1} />
      <rect x={left} y={midY} width={w} height={Math.max(0, top + h - midY)} fill="url(#candleBlue)" stroke="#0000b4" strokeWidth={1} />
      <rect x={left + 0.5} y={py(payload.o) - 1.2} width={tick} height={2.4} fill="#000" />
      <rect x={left + w - tick - 0.5} y={py(payload.c) - 1.2} width={tick} height={2.4} fill="#000" />
    </g>
  )
}

const same = (a: number, b: number) => Math.abs(a - b) < 0.000005

const PriceTick = (props: any) => {
  const { x, y, payload } = props
  const v = payload.value
  const x0 = x - 5 // axis line
  if (same(v, LAST_PRICE)) {
    return (
      <g>
        <polygon points={`${x0 - 15},${y - 5} ${x0 - 3},${y} ${x0 - 15},${y + 5} ${x0 - 11},${y}`} fill={PINK_TXT} />
        <rect x={x0 + 3} y={y - 11.5} width={AXIS_W - 3} height={23} fill="#ffffff" />
        <text x={x0 + 5} y={y} dy={7} fill="#004400" fontSize={19} fontFamily={FONT}>
          {v.toFixed(4)}
        </text>
      </g>
    )
  }
  if (MARK_LINES.some((m) => same(m, v))) {
    return <line x1={x0} x2={x0 + AXIS_W} y1={y} y2={y} stroke="#ffffff" strokeWidth={1} />
  }
  if (MINOR_TICKS.some((m) => same(m, v))) {
    return <line x1={x0} x2={x0 + 3} y1={y} y2={y} stroke={PINK_AXIS} strokeWidth={1} />
  }
  return (
    <g>
      <line x1={x0} x2={x0 + 5} y1={y} y2={y} stroke={PINK_AXIS} strokeWidth={1} />
      <text x={x0 + 5} y={y} dy={7} fill={PINK_TXT} fontSize={19} fontFamily={FONT}>
        {v.toFixed(4)}
      </text>
    </g>
  )
}

const TimeTick = (props: any) => {
  const { x, y, payload } = props
  if (payload.value === DATE_TICK) {
    return (
      <text x={x - 6} y={y} dy={35} fill={PINK_TXT} fontSize={19} fontFamily={FONT} textAnchor="start">
        {DATE_LABEL}
      </text>
    )
  }
  const idx = TIME_TICKS.indexOf(payload.value)
  return (
    <g>
      <line x1={x} x2={x} y1={y - 5} y2={y - 2} stroke={PINK_AXIS} />
      <text x={x} y={y} dy={14.5} fill={PINK_TXT} fontSize={19} fontFamily={FONT} textAnchor="middle">
        {TIME_LABELS[idx]}
      </text>
    </g>
  )
}

const StoTick = (props: any) => {
  const { x, y } = props
  return (
    <text x={x - 1} y={y} dy={10.5} fill={PINK_TXT} fontSize={19} fontFamily={FONT}>
      Sto
    </text>
  )
}

const PRICE_TICKS = [...MAJOR_TICKS, ...MINOR_TICKS, ...MARK_LINES, LAST_PRICE]

const stepLine = (arr: number[][], color: string, key: string, z: number, width = 2) => (
  <Line
    key={key}
    data={pts(arr)}
    dataKey="v"
    type="stepAfter"
    stroke={color}
    strokeWidth={width}
    dot={false}
    activeDot={false}
    isAnimationActive={false}
    zIndex={z}
  />
)

function MainChart() {
  const upperRuns = colourRuns(ENV_UPPER, true)
  const lowerRuns = colourRuns(ENV_LOWER, false)
  return (
    <ComposedChart width={W} height={MAIN_H} data={CANDLES} margin={{ top: 0, right: 0, bottom: 0, left: 0 }}>
      <defs>
        <linearGradient id="candleRed" x1="0" y1="0" x2="1" y2="0">
          <stop offset="0%" stopColor="#c4002e" />
          <stop offset="30%" stopColor="#ec98ac" />
          <stop offset="45%" stopColor="#f8d6de" />
          <stop offset="75%" stopColor="#dc5a78" />
          <stop offset="100%" stopColor="#c0002c" />
        </linearGradient>
        <linearGradient id="candleBlue" x1="0" y1="0" x2="1" y2="0">
          <stop offset="0%" stopColor="#0000c4" />
          <stop offset="30%" stopColor="#9c9cf0" />
          <stop offset="45%" stopColor="#e2e2ff" />
          <stop offset="75%" stopColor="#6060e0" />
          <stop offset="100%" stopColor="#0000c0" />
        </linearGradient>
        <CellPattern id="cellLight" color="#b4b4b4" />
        <CellPattern id="cellDark" color="#505050" />
        <CellPattern id="cellPoc" color="#ff0000" />
      </defs>
      <XAxis dataKey="i" type="number" domain={[X_MIN, X_MAX]} allowDataOverflow hide />
      {/* cell axis for the profile; its key is absent from the bar rows so the domain stays fixed */}
      <XAxis xAxisId="prof" dataKey="cell" type="number" domain={[PROF_MIN, PROF_MAX]} allowDataOverflow hide />
      <YAxis
        orientation="right"
        type="number"
        domain={[PRICE_MIN, PRICE_MAX]}
        allowDataOverflow
        width={AXIS_W}
        ticks={PRICE_TICKS}
        interval={0}
        tickSize={4}
        tickMargin={1}
        tickLine={false}
        axisLine={{ stroke: PINK_AXIS }}
        tick={<PriceTick />}
      />

      {/* session background */}
      <ReferenceArea x1={SESSION_START} x2={SESSION_END} y1={PRICE_MIN} y2={PRICE_MAX} fill="#2b2b2b" fillOpacity={1} stroke="none" zIndex={100} />

      {/* envelope curves (drawn beneath the profile) */}
      {upperRuns.map((r, k) => (
        <Line key={`eu${k}`} data={r.data} dataKey="v" type="linear" stroke={r.color} strokeWidth={3} dot={false} activeDot={false} isAnimationActive={false} zIndex={110} />
      ))}
      {lowerRuns.map((r, k) => (
        <Line key={`el${k}`} data={r.data} dataKey="v" type="linear" stroke={r.color} strokeWidth={3} dot={false} activeDot={false} isAnimationActive={false} zIndex={110} />
      ))}
      <Line data={pts(DEV_POC_B)} dataKey="v" type="linear" stroke="#ff7070" strokeWidth={4} dot={false} activeDot={false} isAnimationActive={false} zIndex={112} />
      <Line data={pts(DEV_POC_B)} dataKey="v" type="linear" stroke="#fff0f0" strokeWidth={1.2} dot={false} activeDot={false} isAnimationActive={false} zIndex={113} />
      <Line data={pts(DEV_POC_LINK)} dataKey="v" type="linear" stroke="#ffb0b0" strokeWidth={1} strokeDasharray="2 2" dot={false} activeDot={false} isAnimationActive={false} zIndex={113} />

      {/* volume profile */}
      {PROFILE_PRICE.map((p, k) => {
        const kind = same(p, POC_PRICE) ? "cellPoc" : p <= VA_HIGH + 0.000001 && p >= VA_LOW - 0.000001 ? "cellLight" : "cellDark"
        return (
          <ReferenceArea
            key={`pr${k}`}
            xAxisId="prof"
            x1={0}
            x2={PROFILE_CELLS[k]}
            y1={p - 0.00005}
            y2={p + 0.00005}
            fill={`url(#${kind})`}
            fillOpacity={1}
            stroke="none"
            zIndex={120}
          />
        )
      })}
      <ReferenceArea xAxisId="prof" x1={0} x2={1} y1={1.2702} y2={1.27026} fill="#0000ff" fillOpacity={1} stroke="none" zIndex={121} />

      {/* bands, steps, vwap */}
      {stepLine(UPPER_BAND, "#9b9bff", "ub", 130)}
      {stepLine(LOWER_BAND, "#9b9bff", "lb", 130)}
      {stepLine(RED_STEP_UPPER, RED, "r1", 131)}
      {stepLine(RED_STEP_LOWER, RED, "r2", 131)}
      {stepLine(VWAP, "#ffff00", "vw", 132, 2.5)}
      <Line data={pts(POC_EXTENSION)} dataKey="v" type="linear" stroke={RED} strokeWidth={1} strokeDasharray="4 3" dot={false} activeDot={false} isAnimationActive={false} zIndex={133} />
      <Line data={pts(DEV_POC_A)} dataKey="v" type="linear" stroke="#ff7070" strokeWidth={4} dot={false} activeDot={false} isAnimationActive={false} zIndex={134} />
      <Line data={pts(DEV_POC_A)} dataKey="v" type="linear" stroke="#fff0f0" strokeWidth={1.2} dot={false} activeDot={false} isAnimationActive={false} zIndex={135} />
      <Line data={pts(DEV_POC_TAIL)} dataKey="v" type="linear" stroke="#ffa0a0" strokeWidth={2} strokeDasharray="5 2" dot={false} activeDot={false} isAnimationActive={false} zIndex={135} />

      {/* parabolic SAR */}
      <Line
        data={pts(SAR)}
        dataKey="v"
        type="linear"
        stroke="none"
        dot={{ r: 2.6, fill: RED, stroke: "none", strokeWidth: 0 }}
        activeDot={false}
        isAnimationActive={false}
        zIndex={140}
      />

      {/* bars */}
      <Bar dataKey={(d: any) => [d.l, d.h]} barSize={13} shape={<Candle />} isAnimationActive={false} zIndex={150} />

      <ReferenceLine
        segment={[
          { x: LOW_MARK.from, y: LOW_MARK.price },
          { x: LOW_MARK.to, y: LOW_MARK.price },
        ]}
        stroke="#ffc0ff"
        strokeDasharray="3 3"
        strokeWidth={1}
        label={{ value: "L 1.2651", position: "right", fill: PINK_TXT, fontSize: 12, fontFamily: FONT }}
        zIndex={160}
      />
      <ReferenceDot x={CIRCLE.i} y={CIRCLE.price} r={CIRCLE.r} fill="none" stroke="#2ed22e" strokeWidth={4.5} zIndex={170} />
    </ComposedChart>
  )
}

function StripChart() {
  return (
    <ComposedChart width={W} height={STRIP_H} margin={{ top: 0, right: 0, bottom: 0, left: 0 }}>
      <XAxis
        dataKey="i"
        type="number"
        domain={[X_MIN, X_MAX]}
        allowDataOverflow
        height={47}
        ticks={[...TIME_TICKS, DATE_TICK]}
        interval={0}
        tickSize={3}
        tickMargin={2}
        tickLine={false}
        axisLine={false}
        tick={<TimeTick />}
      />
      <YAxis
        orientation="right"
        type="number"
        domain={[-10, 110]}
        allowDataOverflow
        width={AXIS_W}
        ticks={[50]}
        tickSize={4}
        tickMargin={1}
        tickLine={false}
        axisLine={{ stroke: PINK_AXIS }}
        tick={<StoTick />}
      />
      <Line data={pts(STO_FAST)} dataKey="v" type="monotone" stroke="#00ffff" strokeWidth={5} dot={false} activeDot={false} isAnimationActive={false} />
      <Line data={pts(STO_SLOW)} dataKey="v" type="monotone" stroke={RED} strokeWidth={2} strokeDasharray="9 3" dot={false} activeDot={false} isAnimationActive={false} />
    </ComposedChart>
  )
}

export default function App() {
  return (
    <div
      style={{
        position: "absolute",
        left: 0,
        top: 0,
        width: 1864,
        height: 894,
        background: "#000",
        overflow: "hidden",
        fontFamily: FONT,
      }}
    >
      <div style={{ position: "absolute", left: 0, top: 0 }}>
        <MainChart />
      </div>
      <div style={{ position: "absolute", left: 0, top: MAIN_H }}>
        <StripChart />
      </div>
      {/* window chrome */}
      <div style={{ position: "absolute", left: 0, top: MAIN_H, width: W, height: 1, background: PINK_AXIS }} />
      <div style={{ position: "absolute", left: 0, top: 846, width: W, height: 1, background: PINK_AXIS }} />
      <div style={{ position: "absolute", left: 0, top: 0, width: 1, height: 892, background: "#bdbdbd" }} />
      <div style={{ position: "absolute", left: 1857, top: 0, width: 7, height: 894, background: "#d4d0c8" }} />
      <div style={{ position: "absolute", left: 0, top: 892, width: 1864, height: 2, background: "#d4d0c8" }} />
      <div style={{ position: "absolute", left: 1829, top: 849, width: 11, height: 10, background: "#ffffff" }} />
      <div style={{ position: "absolute", left: 1842, top: 849, width: 10, height: 9, border: "1px solid #ffffff" }} />
      <div style={{ position: "absolute", left: 1836, top: 881, fontSize: 9, color: PINK_TXT, lineHeight: "10px" }}>+IQ</div>
    </div>
  )
}
